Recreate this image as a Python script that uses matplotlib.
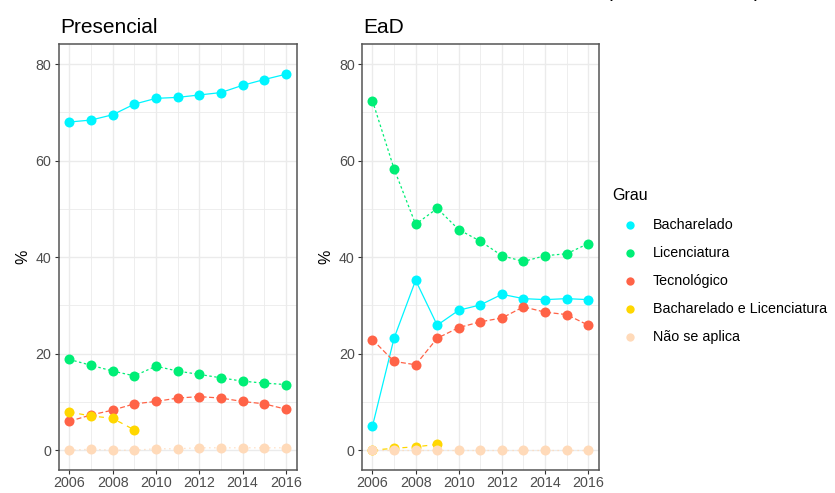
import matplotlib
matplotlib.use("Agg")
import matplotlib.pyplot as plt
from matplotlib.lines import Line2D
from matplotlib.ticker import MultipleLocator

plt.rcParams['font.family'] = ['Liberation Sans', 'DejaVu Sans']

anos = [2006, 2007, 2008, 2009, 2010, 2011, 2012, 2013, 2014, 2015, 2016]
graus = ["Bacharelado", "Licenciatura", "Tecnológico",
         "Bacharelado e Licenciatura", "Não se aplica"]

# Presencial (%)
pres_bacharelado = [68.0, 68.4, 69.5, 71.7, 72.9, 73.1, 73.6, 74.1, 75.6, 76.8, 77.9]
pres_licenciatura = [18.8, 17.6, 16.4, 15.4, 17.4, 16.4, 15.7, 15.0, 14.3, 13.9, 13.6]
pres_tecnologico = [6.0, 7.3, 8.3, 9.6, 10.1, 10.8, 11.1, 10.8, 10.1, 9.6, 8.5]
pres_bach_lic = [7.9, 7.1, 6.6, 4.2]
pres_nao_aplica = [0.0, 0.2, 0.0, 0.0, 0.3, 0.3, 0.5, 0.5, 0.5, 0.5, 0.5]

# EaD (%)
ead_bacharelado = [5.0, 23.2, 35.2, 25.9, 29.0, 30.1, 32.3, 31.4, 31.2, 31.4, 31.2]
ead_licenciatura = [72.4, 58.3, 46.8, 50.1, 45.7, 43.3, 40.3, 39.1, 40.3, 40.7, 42.8]
ead_tecnologico = [22.9, 18.4, 17.7, 23.2, 25.4, 26.6, 27.4, 29.7, 28.6, 28.1, 25.9]
ead_bach_lic = [0.0, 0.4, 0.7, 1.2]
ead_nao_aplica = [0.0, 0.0, 0.0, 0.0, 0.0, 0.0, 0.0, 0.0, 0.0, 0.0, 0.0]

cores = ["#00F5FF", "#00EE76", "#FF6347", "#FFD700", "#FFDAB9"]
tracos = [None, (2, 2), (4, 2), (4, 4), (1, 3)]

W, H = 835, 493
fig = plt.figure(figsize=(W / 100, H / 100), dpi=100)


def px_box(left, top, right, bottom):
    return [left / W, 1 - bottom / H, (right - left) / W, (bottom - top) / H]


paineis = [
    ("Presencial", px_box(58.5, 44.3, 296.7, 469.5),
     [pres_bacharelado, pres_licenciatura, pres_tecnologico, pres_bach_lic, pres_nao_aplica]),
    ("EaD", px_box(361.7, 44.3, 599.0, 469.5),
     [ead_bacharelado, ead_licenciatura, ead_tecnologico, ead_bach_lic, ead_nao_aplica]),
]

for titulo, caixa, series in paineis:
    ax = fig.add_axes(caixa)
    ax.set_facecolor("white")
    # lines first, points on top; later categories stack above earlier ones
    for i, vals in enumerate(series):
        xs = anos[:len(vals)]
        ln, = ax.plot(xs, vals, color=cores[i], lw=0.9, zorder=2 + 0.01 * i)
        if tracos[i] is not None:
            ln.set_dashes(tracos[i])
    for i, vals in enumerate(series):
        xs = anos[:len(vals)]
        ax.plot(xs, vals, linestyle="none", marker="o", markersize=7.2,
                color=cores[i], markeredgewidth=0, zorder=3 + 0.01 * i)
    ax.set_xlim(2005.5, 2016.5)
    ax.set_ylim(-4.0, 84.1)
    ax.xaxis.set_major_locator(MultipleLocator(2))
    ax.xaxis.set_minor_locator(MultipleLocator(1))
    ax.yaxis.set_major_locator(MultipleLocator(20))
    ax.yaxis.set_minor_locator(MultipleLocator(10))
    ax.grid(which="major", color="#EBEBEB", lw=1.0, zorder=0)
    ax.grid(which="minor", color="#EBEBEB", lw=0.6, zorder=0)
    ax.set_axisbelow(True)
    for s in ax.spines.values():
        s.set_color("#555555")
        s.set_linewidth(1.1)
    ax.tick_params(which="major", length=3, width=0.8, color="#333333",
                   labelsize=10.3, labelcolor="#4D4D4D", pad=2)
    ax.tick_params(which="minor", length=0)
    ax.set_ylabel("%", fontsize=11.5, color="black", labelpad=4)
    ax.set_title(titulo, loc="left", fontsize=15, color="black", pad=8, x=0.008)

# legend
fig.text(612 / W, 1 - 196 / H, "Grau", fontsize=11.5, va="center", ha="left")
for i, nome in enumerate(graus):
    y = 1 - (225 + 28 * i) / H
    fig.add_artist(Line2D([630 / W], [y], marker="o", markersize=6,
                          color=cores[i], markeredgewidth=0, linestyle="none"))
    fig.text(653 / W, y, nome, fontsize=10.3, va="center", ha="left", color="black")

# remnants of the heading above the panels
fig.text(606 / W, 1 - 1 / H, "(", fontsize=15, va="bottom", ha="left")
fig.text(754 / W, 1 - 1 / H, ")", fontsize=15, va="bottom", ha="left")

fig.savefig("out.png", dpi=100, facecolor="white")
